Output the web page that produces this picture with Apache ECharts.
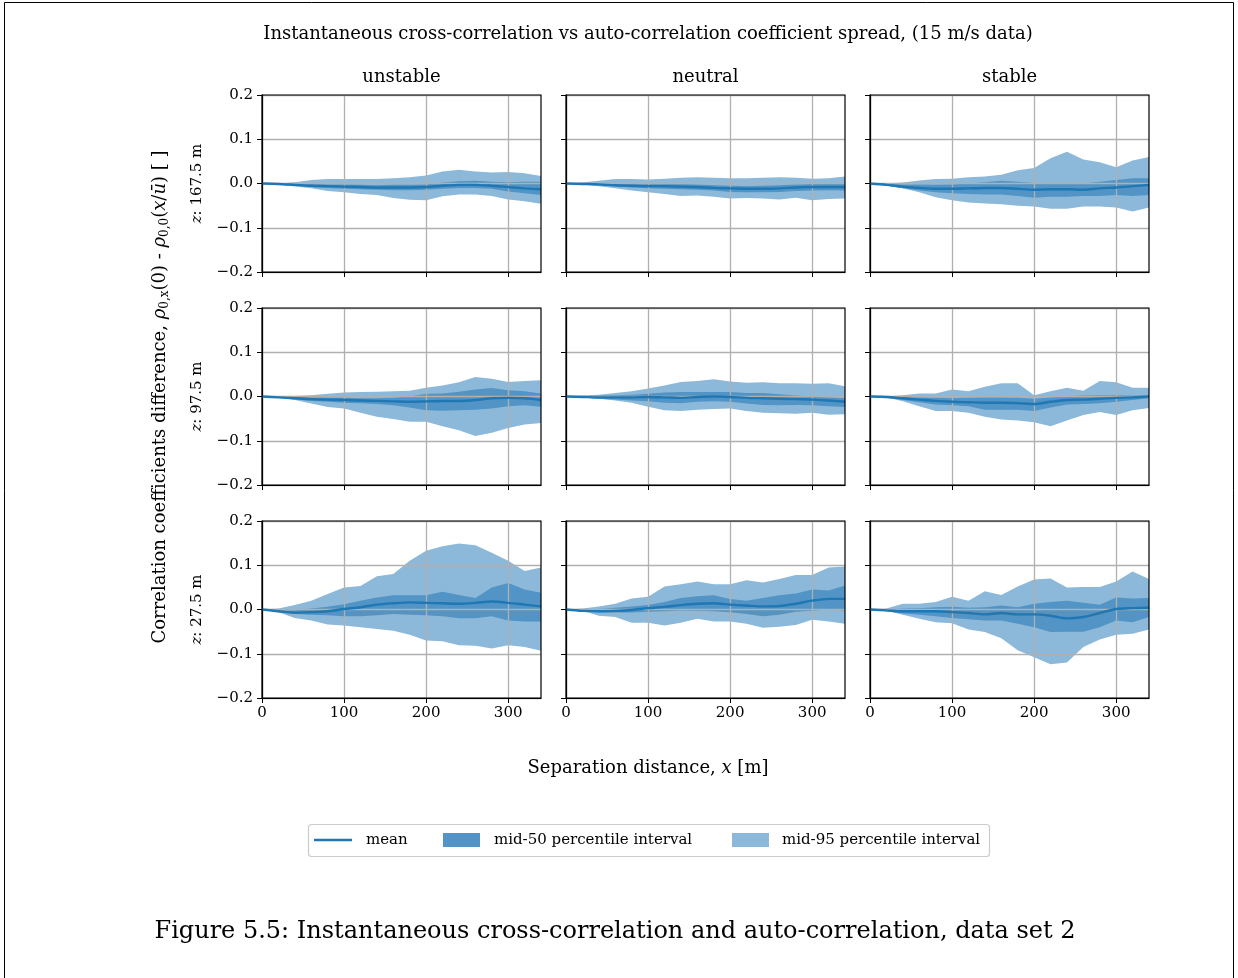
<!DOCTYPE html>
<html>
<head>
<meta charset="utf-8">
<title>Instantaneous cross-correlation vs auto-correlation coefficient spread</title>
<script src="https://cdn.jsdelivr.net/npm/echarts@6/dist/echarts.min.js"></script>
<style>
  html, body { margin: 0; padding: 0; background: #fff; }
  #chart { width: 1238px; height: 978px; }
</style>
</head>
<body>
<div id="chart"></div>
<script>
// Separation distance x [m] at which the coefficient spread is sampled
const separation = [0, 20, 40, 60, 80, 100, 120, 140, 160, 180, 200, 220, 240, 260, 280, 300, 320, 340];
const stabilityClasses = ['unstable', 'neutral', 'stable'];
const heightLabels = ['167.5', '97.5', '27.5'];
const xTicks = [0, 100, 200, 300];
const yTicks = [-0.2, -0.1, 0.0, 0.1, 0.2];

// z = 167.5 m, unstable
const unstable167Lo95 = [0, -0.002, -0.007, -0.011, -0.017, -0.020, -0.024, -0.026, -0.033, -0.037, -0.038, -0.029, -0.025, -0.025, -0.028, -0.036, -0.040, -0.046];
const unstable167Lo50 = [0, -0.002, -0.005, -0.008, -0.010, -0.012, -0.013, -0.014, -0.015, -0.015, -0.014, -0.012, -0.010, -0.010, -0.012, -0.018, -0.022, -0.026];
const unstable167Mean = [0, -0.001, -0.003, -0.005, -0.006, -0.007, -0.008, -0.009, -0.009, -0.009, -0.008, -0.005, -0.003, -0.003, -0.005, -0.008, -0.011, -0.013];
const unstable167Hi50 = [0, 0, -0.001, -0.001, -0.002, -0.002, -0.003, -0.004, -0.003, -0.003, -0.002, 0.002, 0.005, 0.006, 0.004, 0.003, 0.004, 0.004];
const unstable167Hi95 = [0, 0, 0.003, 0.008, 0.010, 0.010, 0.010, 0.010, 0.012, 0.014, 0.018, 0.027, 0.031, 0.027, 0.025, 0.026, 0.023, 0.017];

// z = 167.5 m, neutral
const neutral167Lo95 = [0, -0.002, -0.006, -0.011, -0.016, -0.020, -0.024, -0.028, -0.027, -0.030, -0.034, -0.033, -0.034, -0.036, -0.032, -0.038, -0.035, -0.034];
const neutral167Lo50 = [0, -0.002, -0.004, -0.007, -0.009, -0.011, -0.012, -0.013, -0.014, -0.016, -0.019, -0.020, -0.020, -0.019, -0.017, -0.016, -0.015, -0.016];
const neutral167Mean = [0, -0.001, -0.002, -0.004, -0.005, -0.006, -0.006, -0.007, -0.008, -0.010, -0.011, -0.012, -0.012, -0.011, -0.009, -0.008, -0.008, -0.008];
const neutral167Hi50 = [0, 0, 0, -0.001, -0.001, -0.001, -0.001, -0.001, -0.002, -0.004, -0.005, -0.006, -0.005, -0.004, -0.002, -0.001, 0, 0];
const neutral167Hi95 = [0, 0.002, 0.006, 0.010, 0.010, 0.009, 0.011, 0.013, 0.014, 0.013, 0.012, 0.012, 0.013, 0.014, 0.013, 0.011, 0.012, 0.016];

// z = 167.5 m, stable
const stable167Lo95 = [0, -0.004, -0.011, -0.020, -0.031, -0.038, -0.043, -0.045, -0.047, -0.050, -0.052, -0.057, -0.057, -0.052, -0.052, -0.054, -0.063, -0.054];
const stable167Lo50 = [0, -0.005, -0.011, -0.016, -0.020, -0.022, -0.024, -0.025, -0.025, -0.028, -0.032, -0.030, -0.030, -0.028, -0.028, -0.026, -0.028, -0.026];
const stable167Mean = [0, -0.003, -0.007, -0.010, -0.012, -0.012, -0.011, -0.010, -0.010, -0.012, -0.014, -0.013, -0.013, -0.014, -0.011, -0.009, -0.006, -0.003];
const stable167Hi50 = [0, -0.001, -0.002, -0.002, -0.003, -0.002, 0, 0.003, 0.006, 0.004, 0.001, 0.001, 0.001, 0, 0.004, 0.008, 0.012, 0.012];
const stable167Hi95 = [0, 0, 0.002, 0.007, 0.010, 0.011, 0.014, 0.016, 0.020, 0.030, 0.035, 0.057, 0.072, 0.054, 0.048, 0.037, 0.052, 0.060];

// z = 97.5 m, unstable
const unstable97Lo95 = [0, -0.002, -0.008, -0.016, -0.024, -0.027, -0.037, -0.046, -0.051, -0.057, -0.057, -0.067, -0.076, -0.089, -0.082, -0.071, -0.063, -0.060];
const unstable97Lo50 = [0, -0.002, -0.006, -0.010, -0.012, -0.014, -0.015, -0.017, -0.020, -0.025, -0.031, -0.032, -0.031, -0.030, -0.027, -0.022, -0.020, -0.023];
const unstable97Mean = [0, -0.002, -0.004, -0.006, -0.007, -0.008, -0.009, -0.010, -0.011, -0.012, -0.011, -0.010, -0.010, -0.008, -0.004, -0.003, -0.004, -0.008];
const unstable97Hi50 = [0, 0, -0.001, -0.002, -0.003, -0.003, -0.004, -0.004, -0.003, 0, 0.006, 0.007, 0.011, 0.016, 0.019, 0.014, 0.012, 0.007];
const unstable97Hi95 = [0, 0, 0.001, 0.003, 0.006, 0.009, 0.010, 0.011, 0.012, 0.013, 0.020, 0.025, 0.032, 0.044, 0.040, 0.033, 0.035, 0.037];

// z = 97.5 m, neutral
const neutral97Lo95 = [0, -0.002, -0.005, -0.009, -0.014, -0.023, -0.031, -0.033, -0.030, -0.028, -0.027, -0.033, -0.037, -0.038, -0.039, -0.037, -0.041, -0.040];
const neutral97Lo50 = [0, -0.002, -0.005, -0.007, -0.009, -0.011, -0.014, -0.015, -0.012, -0.011, -0.012, -0.016, -0.019, -0.020, -0.019, -0.020, -0.022, -0.024];
const neutral97Mean = [0, -0.001, -0.002, -0.002, -0.002, -0.001, -0.002, -0.003, -0.001, 0, -0.001, -0.003, -0.004, -0.005, -0.006, -0.007, -0.009, -0.012];
const neutral97Hi50 = [0, 0.001, 0.002, 0.003, 0.004, 0.006, 0.009, 0.010, 0.010, 0.010, 0.010, 0.008, 0.008, 0.005, 0.002, 0, -0.002, -0.004];
const neutral97Hi95 = [0, 0.002, 0.004, 0.008, 0.012, 0.018, 0.025, 0.033, 0.035, 0.039, 0.034, 0.031, 0.032, 0.030, 0.030, 0.029, 0.030, 0.023];

// z = 97.5 m, stable
const stable97Lo95 = [0, -0.002, -0.011, -0.022, -0.033, -0.033, -0.037, -0.046, -0.052, -0.054, -0.058, -0.067, -0.054, -0.042, -0.035, -0.042, -0.031, -0.026];
const stable97Lo50 = [0, -0.003, -0.008, -0.013, -0.018, -0.020, -0.022, -0.030, -0.030, -0.030, -0.033, -0.025, -0.018, -0.017, -0.015, -0.012, -0.008, -0.004];
const stable97Mean = [0, -0.001, -0.004, -0.007, -0.010, -0.012, -0.013, -0.014, -0.014, -0.015, -0.017, -0.012, -0.008, -0.007, -0.005, -0.003, -0.002, 0];
const stable97Hi50 = [0, 0, -0.001, -0.002, -0.003, -0.004, -0.003, -0.002, -0.002, -0.003, -0.005, -0.002, 0, 0.002, 0.003, 0.003, 0.002, 0.001];
const stable97Hi95 = [0, 0, 0.003, 0.007, 0.007, 0.016, 0.012, 0.022, 0.030, 0.030, 0.003, 0.012, 0.020, 0.013, 0.035, 0.032, 0.020, 0.020];

// z = 27.5 m, unstable
const unstable27Lo95 = [0, -0.006, -0.019, -0.025, -0.034, -0.036, -0.040, -0.044, -0.048, -0.057, -0.070, -0.072, -0.081, -0.082, -0.088, -0.081, -0.085, -0.093];
const unstable27Lo50 = [0, -0.005, -0.010, -0.012, -0.013, -0.015, -0.015, -0.013, -0.010, -0.012, -0.013, -0.015, -0.020, -0.020, -0.015, -0.025, -0.027, -0.027];
const unstable27Mean = [0, -0.004, -0.007, -0.006, -0.004, 0.001, 0.005, 0.011, 0.014, 0.016, 0.015, 0.014, 0.013, 0.015, 0.018, 0.015, 0.011, 0.007];
const unstable27Hi50 = [0, -0.002, -0.002, 0.002, 0.006, 0.012, 0.020, 0.027, 0.032, 0.032, 0.032, 0.040, 0.033, 0.026, 0.050, 0.060, 0.045, 0.038];
const unstable27Hi95 = [0, 0.002, 0.010, 0.020, 0.035, 0.050, 0.053, 0.075, 0.080, 0.110, 0.133, 0.143, 0.149, 0.145, 0.128, 0.110, 0.087, 0.095];

// z = 27.5 m, neutral
const neutral27Lo95 = [0, -0.003, -0.014, -0.017, -0.030, -0.030, -0.036, -0.030, -0.021, -0.027, -0.027, -0.032, -0.041, -0.039, -0.035, -0.023, -0.027, -0.032];
const neutral27Lo50 = [0, -0.004, -0.006, -0.007, -0.007, -0.005, -0.004, -0.002, -0.003, -0.004, -0.006, -0.010, -0.015, -0.012, -0.005, -0.003, 0, -0.002];
const neutral27Mean = [0, -0.003, -0.004, -0.003, -0.001, 0.003, 0.006, 0.010, 0.013, 0.014, 0.011, 0.009, 0.007, 0.008, 0.013, 0.020, 0.024, 0.024];
const neutral27Hi50 = [0, -0.001, 0.001, 0.004, 0.007, 0.010, 0.017, 0.026, 0.030, 0.032, 0.024, 0.020, 0.026, 0.032, 0.036, 0.045, 0.043, 0.054];
const neutral27Hi95 = [0, 0.002, 0.007, 0.013, 0.025, 0.029, 0.052, 0.057, 0.063, 0.057, 0.057, 0.066, 0.061, 0.069, 0.078, 0.078, 0.095, 0.097];

// z = 27.5 m, stable
const stable27Lo95 = [0, -0.003, -0.012, -0.021, -0.029, -0.031, -0.045, -0.051, -0.065, -0.092, -0.108, -0.124, -0.120, -0.085, -0.068, -0.057, -0.055, -0.045];
const stable27Lo50 = [0, -0.004, -0.009, -0.012, -0.015, -0.019, -0.022, -0.025, -0.025, -0.032, -0.040, -0.051, -0.050, -0.050, -0.040, -0.025, -0.029, -0.017];
const stable27Mean = [0, -0.002, -0.004, -0.004, -0.004, -0.006, -0.008, -0.011, -0.008, -0.011, -0.011, -0.014, -0.020, -0.017, -0.008, 0.001, 0.003, 0.004];
const stable27Hi50 = [0, 0, 0.002, 0.003, 0.005, 0.006, 0.004, 0.005, 0.009, 0.005, 0.013, 0.017, 0.020, 0.015, 0.011, 0.027, 0.025, 0.026];
const stable27Hi95 = [0, 0.002, 0.013, 0.013, 0.017, 0.029, 0.020, 0.041, 0.033, 0.052, 0.068, 0.070, 0.050, 0.051, 0.051, 0.063, 0.086, 0.069];

// Panels by row (height) and column (stability class)
const panelRows = [
  [
    { lo95: unstable167Lo95, lo50: unstable167Lo50, mean: unstable167Mean, hi50: unstable167Hi50, hi95: unstable167Hi95 },
    { lo95: neutral167Lo95, lo50: neutral167Lo50, mean: neutral167Mean, hi50: neutral167Hi50, hi95: neutral167Hi95 },
    { lo95: stable167Lo95, lo50: stable167Lo50, mean: stable167Mean, hi50: stable167Hi50, hi95: stable167Hi95 }
  ],
  [
    { lo95: unstable97Lo95, lo50: unstable97Lo50, mean: unstable97Mean, hi50: unstable97Hi50, hi95: unstable97Hi95 },
    { lo95: neutral97Lo95, lo50: neutral97Lo50, mean: neutral97Mean, hi50: neutral97Hi50, hi95: neutral97Hi95 },
    { lo95: stable97Lo95, lo50: stable97Lo50, mean: stable97Mean, hi50: stable97Hi50, hi95: stable97Hi95 }
  ],
  [
    { lo95: unstable27Lo95, lo50: unstable27Lo50, mean: unstable27Mean, hi50: unstable27Hi50, hi95: unstable27Hi95 },
    { lo95: neutral27Lo95, lo50: neutral27Lo50, mean: neutral27Mean, hi50: neutral27Hi50, hi95: neutral27Hi95 },
    { lo95: stable27Lo95, lo50: stable27Lo50, mean: stable27Mean, hi50: stable27Hi50, hi95: stable27Hi95 }
  ]
];

// ---- layout and style ----
const SERIF = '"DejaVu Serif", "Liberation Serif", serif';
const MEAN_COLOR = '#1f77b4';
const BAND50_COLOR = '#5294c5';
const BAND95_COLOR = '#8cb9d9';
const GRID_COLOR = '#b0b0b0';
const colLeft = [262, 566, 870];
const rowTop = [95, 308, 521];
const panelW = 279;
const panelH = 177;

function fmtTick(v) {
  const r = Math.round(v * 10) / 10;
  if (r === 0) return '0.0';
  return (r < 0 ? '\u2212' : '') + Math.abs(r).toFixed(1);
}

// Filled interval between two percentile curves, drawn as one polygon in data coordinates
function bandSeries(axisIdx, lo, hi, color, z) {
  return {
    type: 'custom',
    xAxisIndex: axisIdx,
    yAxisIndex: axisIdx,
    z: z,
    silent: true,
    clip: true,
    data: separation.map((x, i) => [x, lo[i], hi[i]]),
    encode: { x: 0, y: [1, 2] },
    renderItem: function (params, api) {
      if (params.dataIndex !== 0) return null;
      const upper = [];
      const lower = [];
      for (let i = 0; i < separation.length; i++) {
        upper.push(api.coord([separation[i], hi[i]]));
        lower.push(api.coord([separation[i], lo[i]]));
      }
      return {
        type: 'polygon',
        shape: { points: upper.concat(lower.reverse()) },
        style: { fill: color, stroke: null }
      };
    }
  };
}

const grids = [];
const xAxes = [];
const yAxes = [];
const series = [];

for (let r = 0; r < 3; r++) {
  for (let c = 0; c < 3; c++) {
    const idx = r * 3 + c;
    const p = panelRows[r][c];
    grids.push({
      left: colLeft[c], top: rowTop[r], width: panelW, height: panelH,
      show: true, backgroundColor: 'transparent',
      borderColor: '#000', borderWidth: 1.2, z: 5
    });
    xAxes.push({
      type: 'value', gridIndex: idx, min: 0, max: 340, interval: 100, z: 3,
      axisLine: { show: true, onZero: false, lineStyle: { color: '#000', width: 1.2 } },
      axisTick: { show: true, inside: false, length: 5, customValues: xTicks, lineStyle: { color: '#000', width: 1 } },
      axisLabel: { show: r === 2, customValues: xTicks, color: '#000', fontFamily: SERIF, fontSize: 15, margin: 8 },
      splitLine: { show: true, lineStyle: { color: GRID_COLOR, width: 1.3 } }
    });
    yAxes.push({
      type: 'value', gridIndex: idx, min: yTicks[0], max: yTicks[yTicks.length - 1], interval: 0.1, z: 3,
      axisLine: { show: true, onZero: false, lineStyle: { color: '#000', width: 1.2 } },
      axisTick: { show: true, inside: false, length: 5, lineStyle: { color: '#000', width: 1 } },
      axisLabel: { show: c === 0, color: '#000', fontFamily: SERIF, fontSize: 15, margin: 9, formatter: fmtTick },
      splitLine: { show: true, lineStyle: { color: GRID_COLOR, width: 1.3 } }
    });
    series.push(bandSeries(idx, p.lo95, p.hi95, BAND95_COLOR, 1));
    series.push(bandSeries(idx, p.lo50, p.hi50, BAND50_COLOR, 2));
    series.push({
      type: 'line', name: 'mean', xAxisIndex: idx, yAxisIndex: idx, z: 4,
      showSymbol: false, symbol: 'none', silent: true, smooth: 0.3,
      data: separation.map((x, i) => [x, p.mean[i]]),
      lineStyle: { color: MEAN_COLOR, width: 2.4 }
    });
  }
}

function txt(x, y, text, size, extra) {
  return Object.assign({
    type: 'text', x: x, y: y, silent: true,
    style: Object.assign({
      text: text, fill: '#000', fontFamily: SERIF, fontSize: size,
      align: 'center', verticalAlign: 'middle',
      textAlign: 'center', textVerticalAlign: 'middle'
    }, extra && extra.style)
  }, extra && extra.el);
}

const italic = { fontStyle: 'italic', fontFamily: SERIF };
const graphics = [];

// page frame
graphics.push({
  type: 'polyline', silent: true,
  shape: { points: [[4.5, 978], [4.5, 2.5], [1233.5, 2.5], [1233.5, 978]] },
  style: { stroke: '#000', lineWidth: 1, fill: null }
});

graphics.push(txt(648, 34, 'Instantaneous cross-correlation vs auto-correlation coefficient spread, (15 m/s data)', 18));
stabilityClasses.forEach((name, c) => graphics.push(txt(colLeft[c] + panelW / 2, 77, name, 18)));
heightLabels.forEach((h, r) => graphics.push(txt(197, rowTop[r] + panelH / 2, '{i|z}: ' + h + ' m', 15, {
  el: { rotation: Math.PI / 2 },
  style: { rich: { i: Object.assign({ fontSize: 15 }, italic) } }
})));

graphics.push(txt(160, 397,
  'Correlation coefficients difference, {i|\u03c1}{s|0,x}(0) - {i|\u03c1}{s|0,0}({i|x}/{i|\u016b}) [ ]', 18, {
  el: { rotation: Math.PI / 2 },
  style: {
    rich: {
      i: Object.assign({ fontSize: 18, lineHeight: 22 }, italic),
      s: { fontFamily: SERIF, fontSize: 12, lineHeight: 12, padding: [9, 0, 0, 0] }
    }
  }
}));

graphics.push(txt(648, 768, 'Separation distance, {i|x} [m]', 18, {
  style: { rich: { i: Object.assign({ fontSize: 18 }, italic) } }
}));

// legend
graphics.push({
  type: 'rect', silent: true,
  shape: { x: 308.5, y: 824.5, width: 681, height: 32, r: 3 },
  style: { fill: '#fff', stroke: '#cccccc', lineWidth: 1.2 }
});
graphics.push({
  type: 'line', silent: true,
  shape: { x1: 314, y1: 840, x2: 352, y2: 840 },
  style: { stroke: MEAN_COLOR, lineWidth: 2.4 }
});
graphics.push({ type: 'rect', silent: true, shape: { x: 443, y: 833, width: 37, height: 14 }, style: { fill: BAND50_COLOR } });
graphics.push({ type: 'rect', silent: true, shape: { x: 732, y: 833, width: 37, height: 14 }, style: { fill: BAND95_COLOR } });
graphics.push(txt(366, 840, 'mean', 15, { style: { align: 'left', textAlign: 'left' } }));
graphics.push(txt(494, 840, 'mid-50 percentile interval', 15, { style: { align: 'left', textAlign: 'left' } }));
graphics.push(txt(782, 840, 'mid-95 percentile interval', 15, { style: { align: 'left', textAlign: 'left' } }));

// caption
graphics.push(txt(615, 932, 'Figure 5.5: Instantaneous cross-correlation and auto-correlation, data set 2', 24));

const chart = echarts.init(document.getElementById('chart'), null, { renderer: 'canvas' });
chart.setOption({
  animation: false,
  backgroundColor: '#fff',
  grid: grids,
  xAxis: xAxes,
  yAxis: yAxes,
  series: series,
  graphic: graphics
});
</script>
</body>
</html>
